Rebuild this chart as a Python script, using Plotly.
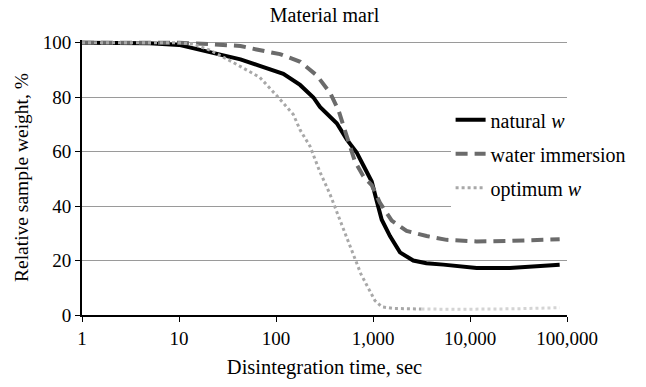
import plotly.graph_objects as go

# Disintegration time (s) and relative sample weight (%)
t_nat = [1, 3, 5, 10, 20, 43, 68, 119, 177, 243, 284, 423, 536, 679, 794, 970,
         1091, 1230, 1496, 1897, 2600, 3550, 5300, 11700, 25700, 50000, 84000]
w_nat = [100, 100, 99.8, 99.2, 96.8, 93.9, 91.5, 88.6, 84.5, 79.9, 76.4, 70.4, 64.5,
         59.7, 55, 49, 42, 35, 29, 23, 20, 19, 18.5, 17.3, 17.3, 17.8, 18.5]

t_wat = [1, 10, 20, 43, 63, 110, 178, 263, 361, 440, 536, 653, 794, 970, 1180,
         1560, 2220, 3570, 5740, 11700, 25700, 84000]
w_wat = [100, 100, 99.5, 98.8, 97.5, 95.8, 93, 88, 81.6, 75.3, 65.7, 56.3, 51,
         47.7, 41.2, 34.7, 30.9, 29, 27.6, 27, 27.2, 27.8]

t_opt = [1, 10, 14, 21, 36, 68, 102, 151, 177, 224, 284, 361, 457, 580, 752, 861,
         1047, 1230, 1620, 3160]
w_opt = [100, 100, 99.5, 97.2, 92.8, 87.3, 80.5, 73.6, 68, 62, 52.5, 44.3, 34.8,
         25.4, 15, 11, 5.3, 3, 2.4, 2.2]
t_opt_late = [3160, 7900, 31600, 84000]
w_opt_late = [2.2, 2.1, 2.3, 2.7]

x_tickvals = [1, 10, 100, 1000, 10000, 100000]
x_ticktext = ["1", "10", "100", "1,000", "10,000", "100,000"]
y_tickvals = [0, 20, 40, 60, 80, 100]

FONT = "Liberation Serif"

fig = go.Figure()
fig.add_trace(go.Scatter(x=t_nat, y=w_nat, mode="lines", name="natural <i>w</i>",
                         line=dict(color="black", width=4), legendgroup="a"))
fig.add_trace(go.Scatter(x=t_wat, y=w_wat, mode="lines", name="water immersion",
                         line=dict(color="#6b6b6b", width=4, dash="12px,7px"), legendgroup="b"))
fig.add_trace(go.Scatter(x=t_opt, y=w_opt, mode="lines", name="optimum <i>w</i>",
                         line=dict(color="#a8a8a8", width=3, dash="3px,3px"), legendgroup="c"))
fig.add_trace(go.Scatter(x=t_opt_late, y=w_opt_late, mode="lines", showlegend=False,
                         line=dict(color="#d4d4d4", width=3, dash="3px,3px"), legendgroup="c"))

fig.update_layout(
    width=646, height=387,
    margin=dict(l=82, r=79, t=40, b=62),
    paper_bgcolor="white", plot_bgcolor="white",
    font=dict(family=FONT, size=20, color="black"),
    title=dict(text="Material marl", x=0.5, xref="paper", y=0.96, yref="container",
               xanchor="center", yanchor="middle", font=dict(size=20)),
    legend=dict(x=0.76, xanchor="left", y=0.586, yanchor="middle",
                bgcolor="white", borderwidth=0, tracegroupgap=5,
                font=dict(size=20)),
    showlegend=True,
)
fig.update_xaxes(type="log", range=[0, 5], tickvals=x_tickvals, ticktext=x_ticktext,
                 showline=True, linecolor="black", linewidth=2, ticks="outside",
                 ticklen=5, tickcolor="black", tickwidth=1, showgrid=False,
                 tickfont=dict(size=19), zeroline=False,
                 title=dict(text="Disintegration time, sec", standoff=12,
                            font=dict(size=20.5)))
fig.update_yaxes(range=[0, 101], tickvals=y_tickvals, showline=True, linecolor="black",
                 linewidth=2, ticks="outside", ticklen=5, tickcolor="black", tickwidth=1,
                 showgrid=True, gridcolor="#9a9a9a", gridwidth=1, zeroline=False,
                 tickfont=dict(size=19),
                 title=dict(text="Relative sample weight, %", standoff=9,
                            font=dict(size=19.5)))

fig.write_html("out.html")
